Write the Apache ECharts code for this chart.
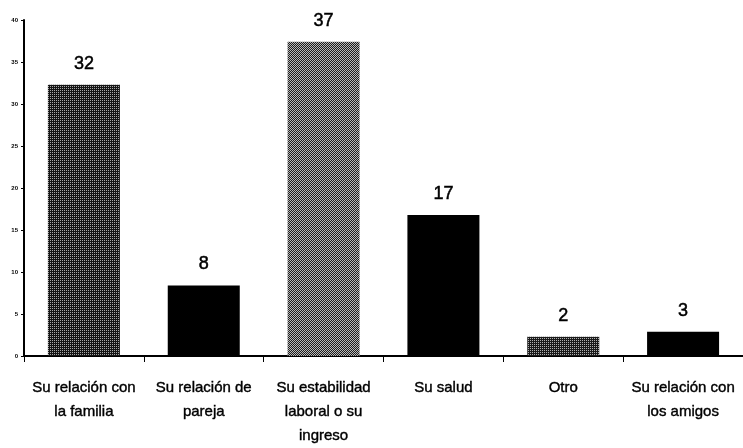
<!DOCTYPE html>
<html>
<head>
<meta charset="utf-8">
<script src="https://cdn.jsdelivr.net/npm/echarts@6/dist/echarts.min.js"></script>
<style>
    html, body {margin: 0; padding: 0; background: #fff;}
    #chart {width: 743px; height: 448px;}
</style>
</head>
<body>
<div id="chart"></div>
<script>
// data
const categories = [
    'Su relación con\nla familia',
    'Su relación de\npareja',
    'Su estabilidad\nlaboral o su\ningreso',
    'Su salud',
    'Otro',
    'Su relación con\nlos amigos'
];
const values = [32.3, 8.4, 37.4, 16.8, 2.3, 2.9];
const yTicks = [0, 5, 10, 15, 20, 25, 30, 35, 40];

// stipple fill like the scanned pattern
const makePattern = (bg, dot, checker) => {
    const c = document.createElement('canvas');
    c.width = 2;
    c.height = 2;
    const ctx = c.getContext('2d');
    ctx.fillStyle = bg;
    ctx.fillRect(0, 0, 2, 2);
    ctx.fillStyle = dot;
    ctx.fillRect(0, 0, 1, 1);
    if (checker) ctx.fillRect(1, 1, 1, 1);
    return {image: c, repeat: 'repeat'};
};
const barColors = [
    makePattern('#141414', '#a8a8a8', false),
    '#000',
    makePattern('#1c1c1c', '#b8b8b8', true),
    '#000',
    makePattern('#1a1a1a', '#b0b0b0', false),
    '#000'
];

const chart = echarts.init(document.getElementById('chart'));
chart.setOption({
    animation: false,
    grid: {left: 24, top: 20, width: 723, bottom: 85},
    xAxis: {
        type: 'category',
        data: categories,
        axisLine: {lineStyle: {color: '#000', width: 2}},
        axisTick: {show: true, length: 6, lineStyle: {color: '#000', width: 1}},
        axisLabel: {
            interval: 0,
            margin: 20,
            color: '#000',
            fontFamily: '"Liberation Sans", Arial',
            fontSize: 15,
            lineHeight: 24,
            textBorderColor: '#000',
            textBorderWidth: 0.4
        }
    },
    yAxis: {
        type: 'value',
        min: yTicks[0],
        max: yTicks[yTicks.length - 1],
        interval: 5,
        splitLine: {show: false},
        axisLine: {show: true, lineStyle: {color: '#000', width: 2}},
        axisTick: {show: true, length: 3, lineStyle: {color: '#000'}},
        axisLabel: {
            margin: 6,
            color: '#000',
            fontSize: 6,
            fontWeight: 'bold',
            fontFamily: 'Liberation Sans, Arial'
        }
    },
    series: [{
        type: 'bar',
        barWidth: 72,
        data: values.map((v, i) => ({value: v, itemStyle: {color: barColors[i]}})),
        label: {
            show: true,
            position: 'top',
            distance: 12,
            color: '#000',
            fontSize: 18,
            fontFamily: '"Liberation Sans", Arial',
            textBorderColor: '#000',
            textBorderWidth: 0.5,
            formatter: p => Math.round(p.value)
        }
    }]
});
</script>
</body>
</html>
